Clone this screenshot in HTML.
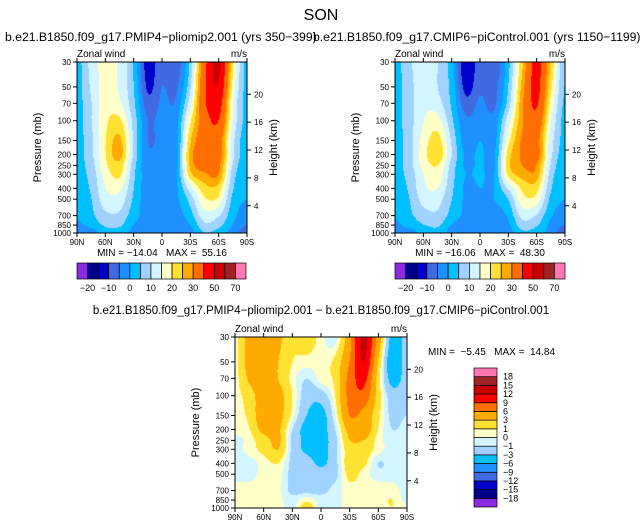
<!DOCTYPE html>
<html><head><meta charset="utf-8"><style>
body{margin:0;background:#fff;width:643px;height:528px;overflow:hidden;position:relative;font-family:"Liberation Sans",sans-serif}
canvas{position:absolute}
svg{position:absolute;left:0;top:0}
text{white-space:pre}
</style></head><body>
<canvas id="c1" style="left:77px;top:62px" width="170" height="171"></canvas>
<canvas id="c2" style="left:395px;top:62px" width="170" height="171"></canvas>
<canvas id="c3" style="left:235px;top:337px" width="172" height="171"></canvas>
<svg id="s" width="643" height="528"></svg>
<script>
const lats=["90N","75N","60N","45N","30N","15N","0","15S","30S","45S","60S","75S","90S"];
const levels=[30,50,70,100,150,200,250,300,400,500,700,850,1000];
const pressureTicks=[30,50,70,100,150,200,250,300,400,500,700,850,1000];
const heightTicks=[4,8,12,16,20];
const latTickLabels=["90N","60N","30N","0","30S","60S","90S"];
const absBounds=[-20,-15,-10,-5,0,5,10,15,20,25,30,40,50,60,70];
const absLabels=["-20","-10","0","10","20","30","50","70"];
const diffBounds=[-18,-15,-12,-9,-6,-3,-1,0,1,3,6,9,12,15,18];
const diffLabels=["18","15","12","9","6","3","1","0","-1","-3","-6","-9","-12","-15","-18"];
const colors=["#8a2be2","#00008b","#0000cd","#4169e1","#1e90ff","#00bfff","#a0d2ff","#d2f5ff","#ffffc8","#ffe132","#ffaa00","#ff6e00","#ff0000","#c80000","#a02323","#ff78b4"];
const pliomip=[
[3,12,17,14,4,-13,-6,-8,6,36,53,22,3],
[3,11,17,14,5,-11,-5,-6,9,38,49,19,3],
[3,10,18,16,6,-8,-4,-4,13,38,45,16,3],
[3,10,19,21,8,-5,-3,-2,19,35,40,15,3],
[3,9,20,26,9,-5,-3,-2,24,35,35,12,2],
[3,9,20,27,9,-4,-2,-2,27,35,35,12,2],
[3,8,19,23,7,-4,-2,-2,26,33,32,10,1],
[3,7,17,21,6,-3,-2,-1,23,29,30,8,1],
[2,6,15,16,5,-3,-2,-1,13,23,23,6,0],
[2,5,13,13,4,-3,-2,-1,7,19,19,4,0],
[1,4,9,9,2,-2,-2,-2,3,13,11,2,-3],
[-1,2,6,6,0,-2,-3,-3,0,9,7,0,-5],
[-2,-2,3,3,-2,-3,-4,-3,-2,5,3,-2,-8]];
const picontrol=[
[3,9,14,10,2,-15,-7,-9,3,24,43,25,5],
[3,8,14,10,3,-12,-6,-7,5,27,43,22,5],
[3,8,14,12,4,-8,-4,-6,7,29,41,19,4],
[3,8,15,17,6,-4,-2,-3,13,29,37,16,3],
[3,8,17,22,9,-3,0,-2,18,31,33,13,3],
[3,8,18,24,10,-1,1,-1,22,31,34,12,2],
[3,8,17,20,8,-1,1,-1,23,30,30,10,1],
[3,7,15,18,7,0,1,0,21,27,28,8,1],
[2,6,14,15,6,-1,0,0,11,21,22,6,0],
[2,5,12,12,5,-1,-1,0,5,18,18,4,0],
[1,4,8,9,3,-1,-1,-2,1,12,10,1,-3],
[-1,2,5,6,0,-2,-3,-3,-1,8,6,-1,-5],
[-2,-2,2,3,-2,-3,-4,-3,-2,4,3,-2,-8]];
const difference=[
[0.5,4,4,3.5,1.5,2,0.5,-0.5,5,13,5,-4,-2],
[0.5,4,4,3,1,0.5,0.5,1.5,6,12,3,-5,-2],
[0.5,3.5,4.5,3,0.5,-1,0.5,1.5,7,10,2,-4,-2],
[0.5,2,4.5,4,1,-2,-2,1,7,8,2,-2,-1.5],
[0.5,1.5,5,4,0.5,-3,-4,0,6,5,1.5,-1.5,-1],
[0.5,1,4,3.5,-1,-4,-4,-1,4,5,1,-1,-0.5],
[-0.5,0.5,2,3.5,-1.5,-3.5,-4,-1.5,3,3,0.5,-0.5,-0.5],
[-0.5,0.5,1.5,3,-1.5,-3.5,-4,-1.5,2,2,0.5,-0.5,-0.5],
[-0.5,-0.5,0.5,1,-1.5,-2,-3.5,-1.5,2,1.5,-1,-0.5,-0.5],
[-0.5,-0.5,0.5,0.5,-1.5,-1.5,-2,-1.5,1.5,0.5,-0.5,-0.5,-0.5],
[0.5,0.5,0.5,0.3,-1.5,-1.5,-1.5,-0.5,0.5,0.5,0.5,0.5,-0.5],
[0.5,0.5,0.5,0.3,-0.5,0.5,-0.5,-0.5,0.5,0.5,0.5,1,-0.5],
[0.5,0.5,0.5,0.5,-0.5,2,-0.5,-0.5,0.5,0.5,0.5,1,0.5]];

function yFrac(p){return Math.log(p/30)/Math.log(1000/30);}
function classify(v,b){let i=0;while(i<b.length&&v>=b[i])i++;return i;}
function hex(c){return [parseInt(c.slice(1,3),16),parseInt(c.slice(3,5),16),parseInt(c.slice(5,7),16)];}
const rgb=colors.map(hex);
function cr(p0,p1,p2,p3,t){return 0.5*((2*p1)+(-p0+p2)*t+(2*p0-5*p1+4*p2-p3)*t*t+(-p0+3*p1-3*p2+p3)*t*t*t);}
function drawField(id,grid,bounds){
  const cv=document.getElementById(id),ctx=cv.getContext('2d'),W=cv.width,H=cv.height;
  const img=ctx.createImageData(W,H);
  const ly=levels.map(yFrac);const nr=grid.length,nc=grid[0].length;
  const g=(r,c)=>grid[Math.max(0,Math.min(nr-1,r))][Math.max(0,Math.min(nc-1,c))];
  for(let py=0;py<H;py++){
    const f=py/(H-1);let r=0;while(r<ly.length-2&&f>ly[r+1])r++;
    const t=(f-ly[r])/(ly[r+1]-ly[r]);
    for(let px=0;px<W;px++){
      const gx=px/(W-1)*(nc-1);let c=Math.min(Math.floor(gx),nc-2);const u=gx-c;
      const rows=[];
      for(let k=-1;k<=2;k++)rows.push(cr(g(r+k,c-1),g(r+k,c),g(r+k,c+1),g(r+k,c+2),u));
      const v=cr(rows[0],rows[1],rows[2],rows[3],t);
      const col=rgb[classify(v,bounds)],k=(py*W+px)*4;
      img.data[k]=col[0];img.data[k+1]=col[1];img.data[k+2]=col[2];img.data[k+3]=255;
    }
  }
  ctx.putImageData(img,0,0);
}
drawField('c1',pliomip,absBounds);
drawField('c2',picontrol,absBounds);
drawField('c3',difference,diffBounds);

const S=document.getElementById('s');const NS='http://www.w3.org/2000/svg';
function el(tag,attrs,txt){const e=document.createElementNS(NS,tag);for(const k in attrs)e.setAttribute(k,attrs[k]);if(txt!==undefined)e.textContent=txt;S.appendChild(e);return e;}
function txt(x,y,s,size,anchor,name,extra){const e=el('text',Object.assign({x:x,y:y,'font-size':size,'text-anchor':anchor||'start',fill:'#000'},extra||{}),s);return e;}
function panel(x0,y0,w,h,pre){
  const r=el('rect',{x:x0,y:y0,width:w,height:h,fill:'none',stroke:'#000','stroke-width':1});
  
  pressureTicks.forEach(p=>{const y=y0+yFrac(p)*h;el('line',{x1:x0-4,x2:x0,y1:y,y2:y,stroke:'#000'});txt(x0-6,y+3,String(p),8,'end',pre+'-pressure-tick');});
  heightTicks.forEach(km=>{const p=1013*Math.exp(-km/7);const y=y0+yFrac(p)*h;el('line',{x1:x0+w,x2:x0+w+4,y1:y,y2:y,stroke:'#000'});txt(x0+w+7,y+3,String(km),8,'start',pre+'-height-tick');});
  latTickLabels.forEach((l,i)=>{const x=x0+i*w/6;el('line',{x1:x,x2:x,y1:y0+h,y2:y0+h+4,stroke:'#000'});el('line',{x1:x,x2:x,y1:y0,y2:y0-4,stroke:'#000'});txt(x,y0+h+12,l,8,'middle',pre+'-lat-tick');});
  txt(x0,y0-5,'Zonal wind',10,'start',pre+'-field-label');
  txt(x0+w,y0-5,'m/s',10,'end',pre+'-units-label');
  txt(x0-36,y0+h/2,'Pressure (mb)',11,'middle',pre+'-y-axis-title',{transform:`rotate(-90 ${x0-36} ${y0+h/2})`});
  txt(x0+w+30,y0+h/2,'Height (km)',11,'middle',pre+'-y2-axis-title',{transform:`rotate(-90 ${x0+w+30} ${y0+h/2})`});
}
function hbar(x0,y0,w,h,pre){
  const bw=w/16;colors.forEach((c,i)=>{const r=el('rect',{x:x0+i*bw,y:y0,width:bw,height:h,fill:c,stroke:'#000','stroke-width':0.7});});
  absLabels.forEach((l,i)=>txt(x0+(2*i+1)*bw,y0+h+12,l.replace('-','\u2212'),9,'middle',pre+'-label'));
}
txt(321,20,'SON',16,'middle','figure-title');
txt(5,41,'b.e21.B1850.f09_g17.PMIP4\u2212pliomip2.001 (yrs 350\u2212399)',12.2,'start','left-panel-title');
txt(313,41,'b.e21.B1850.f09_g17.CMIP6\u2212piControl.001 (yrs 1150\u22121199)',12.2,'start','right-panel-title');
panel(77,62,170,171,'left');panel(395,62,170,171,'right');panel(235,337,172,171,'diff');
txt(162,256,'MIN = \u221214.04   MAX =  55.16',10,'middle','left-minmax');
txt(480,256,'MIN = \u221216.06   MAX =  48.30',10,'middle','right-minmax');
hbar(77,263,169,16,'left-colorbar');hbar(395,263,170,16,'right-colorbar');
txt(321,314,'b.e21.B1850.f09_g17.PMIP4\u2212pliomip2.001 \u2212 b.e21.B1850.f09_g17.CMIP6\u2212piControl.001',11.5,'middle','diff-panel-title');
txt(428,355,'MIN =  \u22125.45   MAX =  14.84',10,'start','diff-minmax');
const bh=139/16;
colors.forEach((c,i)=>{const r=el('rect',{x:474,y:368+(15-i)*bh,width:23,height:bh,fill:c,stroke:'#000','stroke-width':0.7});});
diffLabels.forEach((l,i)=>txt(503,368+(i+1)*bh+3,l.replace('-','\u2212'),9,'start','diff-colorbar-label'));
</script>
</body></html>
